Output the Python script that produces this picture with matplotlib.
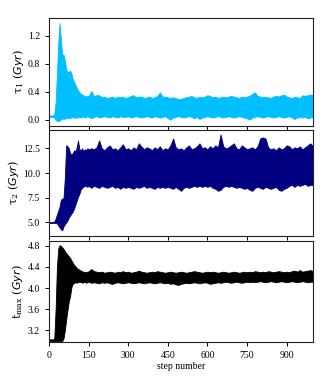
import matplotlib
matplotlib.use("Agg")
import matplotlib.pyplot as plt
import numpy as np

plt.rcParams['font.family'] = ['Liberation Serif', 'DejaVu Serif']
plt.rcParams['mathtext.fontset'] = 'custom'
plt.rcParams['mathtext.rm'] = 'DejaVu Serif'
plt.rcParams['mathtext.it'] = 'DejaVu Sans:italic'
plt.rcParams['mathtext.bf'] = 'DejaVu Serif:bold'

# step grid: every 5 steps up to 150, then every 10
steps = list(range(0, 151, 5)) + list(range(160, 1001, 10))

# ---- tau_1 envelope of walkers (Gyr)
tau1_upper = [0.06, 0.06, 0.06, 0.06, 0.08, 0.25, 0.65, 1.09, 1.38, 1.15, 0.93,
              0.93, 0.85, 0.72, 0.68, 0.69, 0.70, 0.66, 0.58, 0.54, 0.50, 0.45,
              0.42, 0.39, 0.37, 0.36, 0.35, 0.34, 0.33, 0.34, 0.33,
              0.41, 0.34, 0.35, 0.35, 0.32, 0.33, 0.31, 0.32, 0.33, 0.31, 0.33,
              0.32, 0.33, 0.31, 0.32, 0.34, 0.35, 0.32, 0.33, 0.33, 0.31, 0.32,
              0.33, 0.31, 0.32, 0.34, 0.39, 0.33, 0.33, 0.32, 0.31, 0.32, 0.31,
              0.29, 0.30, 0.31, 0.32, 0.33, 0.34, 0.32, 0.31, 0.33, 0.32, 0.33,
              0.35, 0.34, 0.32, 0.33, 0.31, 0.32, 0.33, 0.32, 0.33, 0.34, 0.33,
              0.32, 0.31, 0.33, 0.32, 0.33, 0.34, 0.37, 0.39, 0.34, 0.33, 0.32,
              0.33, 0.32, 0.31, 0.33, 0.34, 0.33, 0.35, 0.36, 0.33, 0.32, 0.31,
              0.33, 0.32, 0.31, 0.35, 0.34, 0.35, 0.36, 0.35]
tau1_lower = [0.04, 0.04, 0.04, 0.04, 0.03, 0.00, -0.02, -0.02, -0.01, 0.00, 0.01,
              0.02, 0.01, 0.03, 0.02, 0.03, 0.02, 0.04, 0.03, 0.04, 0.02, 0.04,
              0.03, 0.05, 0.03, 0.04, 0.05, 0.03, 0.04, 0.05, 0.04,
              0.02, 0.04, 0.05, 0.03, 0.04, 0.05, 0.04, 0.03, 0.05, 0.04, 0.03,
              0.05, 0.04, 0.04, 0.05, 0.03, 0.04, 0.05, 0.04, 0.03, 0.04, 0.05,
              0.04, 0.03, 0.05, 0.04, 0.03, 0.04, 0.05, 0.02, 0.00, 0.03, 0.04,
              0.05, 0.04, 0.03, 0.04, 0.05, 0.04, 0.02, 0.04, 0.01, 0.03, 0.04,
              0.05, 0.04, 0.03, 0.04, 0.05, 0.04, 0.03, 0.04, 0.05, 0.04, 0.03,
              0.04, 0.05, 0.04, 0.03, 0.02, 0.00, 0.03, 0.04, 0.05, 0.04, 0.03,
              0.04, 0.05, 0.04, 0.03, 0.04, 0.05, 0.04, 0.03, 0.04, 0.05, 0.03,
              0.01, 0.03, 0.04, 0.03, 0.04, 0.02, 0.03, 0.04]

# ---- tau_2 envelope (Gyr)
tau2_upper = [5.05, 5.05, 5.05, 5.05, 5.10, 5.40, 5.80, 6.20, 6.60, 7.30, 7.40,
              7.50, 9.50, 12.8, 12.7, 12.5, 12.0, 11.9, 12.0, 12.3, 12.2, 12.6,
              13.3, 12.4, 12.3, 12.5, 12.2, 12.4, 12.3, 12.5, 12.4,
              12.5, 12.4, 12.6, 13.3, 12.5, 12.3, 12.6, 12.8, 12.4, 12.5, 12.3,
              12.6, 12.9, 12.4, 12.5, 12.3, 12.6, 12.4, 13.0, 12.7, 12.4, 12.6,
              12.5, 12.3, 12.6, 12.4, 12.7, 12.3, 12.5, 12.4, 12.8, 13.5, 12.6,
              12.4, 12.5, 12.3, 12.6, 12.8, 12.4, 12.5, 12.7, 13.0, 12.5, 12.6,
              12.4, 12.7, 12.5, 12.8, 12.6, 13.9, 12.7, 12.5, 12.6, 12.8, 13.0,
              12.5, 12.4, 12.8, 12.6, 12.4, 12.5, 12.6, 12.4, 12.7, 13.5, 13.6,
              13.5, 12.6, 12.4, 12.5, 12.3, 12.6, 12.4, 12.5, 12.8, 12.7, 12.4,
              12.6, 12.5, 12.7, 12.4, 12.6, 12.8, 13.0, 12.7]
tau2_lower = [4.95, 4.95, 4.95, 4.95, 4.95, 4.95, 4.90, 4.70, 4.50, 4.30, 4.20,
              4.60, 4.80, 5.00, 5.20, 5.50, 5.70, 5.90, 6.10, 6.40, 6.80, 7.20,
              7.60, 7.90, 8.30, 8.50, 8.60, 8.70, 8.70, 8.60, 8.70,
              8.5, 8.7, 8.6, 8.5, 8.7, 8.6, 8.5, 8.6, 8.7, 8.5, 8.6,
              8.4, 8.6, 8.5, 8.6, 8.5, 8.4, 8.6, 8.5, 8.6, 8.7, 8.5,
              8.6, 8.5, 8.4, 8.6, 8.5, 8.6, 8.5, 8.6, 8.5, 8.4, 8.6,
              8.4, 8.2, 8.5, 8.6, 8.5, 8.6, 8.7, 8.6, 8.7, 8.6, 8.7,
              8.6, 8.7, 8.5, 8.4, 8.2, 8.3, 8.6, 8.7, 8.6, 8.7, 8.6,
              8.5, 8.6, 8.5, 8.4, 8.5, 8.3, 8.2, 8.5, 8.6, 8.5, 8.4,
              8.6, 8.5, 8.4, 8.5, 8.6, 8.3, 8.2, 8.4, 8.5, 8.7, 8.8,
              8.6, 8.8, 8.7, 8.8, 8.9, 8.7, 8.8, 8.8]

# ---- t_max envelope (Gyr)
tmax_upper = [3.03, 3.03, 3.03, 3.03, 3.05, 3.60, 4.40, 4.75, 4.81, 4.80, 4.77,
              4.74, 4.70, 4.66, 4.63, 4.60, 4.57, 4.52, 4.48, 4.44, 4.41, 4.38,
              4.36, 4.35, 4.33, 4.32, 4.31, 4.30, 4.31, 4.30, 4.32,
              4.36, 4.32, 4.31, 4.30, 4.31, 4.29, 4.30, 4.31, 4.30, 4.29, 4.31,
              4.30, 4.32, 4.30, 4.31, 4.29, 4.30, 4.31, 4.33, 4.31, 4.30, 4.29,
              4.30, 4.31, 4.30, 4.32, 4.31, 4.30, 4.29, 4.30, 4.31, 4.30, 4.29,
              4.30, 4.31, 4.30, 4.29, 4.30, 4.31, 4.32, 4.31, 4.30, 4.29, 4.30,
              4.31, 4.30, 4.31, 4.30, 4.29, 4.30, 4.31, 4.30, 4.29, 4.30, 4.31,
              4.30, 4.29, 4.30, 4.31, 4.30, 4.31, 4.30, 4.32, 4.31, 4.30, 4.31,
              4.30, 4.32, 4.31, 4.30, 4.31, 4.32, 4.31, 4.30, 4.31, 4.30, 4.32,
              4.33, 4.31, 4.34, 4.31, 4.32, 4.33, 4.34, 4.32]
tmax_lower = [3.00, 3.00, 3.00, 3.00, 3.00, 3.00, 3.00, 3.00, 3.00, 3.00, 3.00,
              3.05, 3.20, 3.40, 3.58, 3.75, 3.85, 4.02, 4.08, 4.10, 4.11, 4.10,
              4.12, 4.11, 4.12, 4.10, 4.11, 4.12, 4.10, 4.11, 4.12,
              4.10, 4.11, 4.10, 4.09, 4.11, 4.10, 4.11, 4.09, 4.08, 4.10, 4.11,
              4.10, 4.09, 4.10, 4.11, 4.10, 4.09, 4.10, 4.11, 4.10, 4.09, 4.10,
              4.11, 4.10, 4.09, 4.10, 4.11, 4.10, 4.09, 4.10, 4.08, 4.09, 4.07,
              4.06, 4.08, 4.09, 4.10, 4.09, 4.10, 4.11, 4.10, 4.09, 4.10, 4.11,
              4.10, 4.08, 4.09, 4.10, 4.11, 4.10, 4.11, 4.12, 4.11, 4.10, 4.11,
              4.12, 4.11, 4.10, 4.11, 4.12, 4.11, 4.12, 4.11, 4.12, 4.13, 4.12,
              4.11, 4.12, 4.13, 4.12, 4.11, 4.12, 4.13, 4.12, 4.11, 4.12, 4.13,
              4.12, 4.11, 4.12, 4.13, 4.12, 4.11, 4.12, 4.12]

xticks = [0, 150, 300, 450, 600, 750, 900]
ylabels = [r'$\mathrm{\tau}_{\mathrm{1}}\ (Gyr)$', r'$\mathrm{\tau}_{\mathrm{2}}\ (Gyr)$',
           r'$\mathrm{t}_{\mathrm{max}}\ (Gyr)$']
yticks = [[0.0, 0.4, 0.8, 1.2], [5.0, 7.5, 10.0, 12.5], [3.2, 3.6, 4.0, 4.4, 4.8]]
ylims = [(-0.086, 1.449), (3.66, 14.35), (2.99, 4.89)]
colors = ['#00BFFF', '#000080', '#000000']
uppers = [tau1_upper, tau2_upper, tmax_upper]
lowers = [tau1_lower, tau2_lower, tmax_lower]

W, H = 330, 385
fig = plt.figure(figsize=(W / 100, H / 100), dpi=100)
boxes = [(18.3, 125.7), (130.0, 235.7), (241.0, 341.5)]
left, width = 49 / W, 264 / W
axes = []
for i, (top, bot) in enumerate(boxes):
    ax = fig.add_axes([left, 1 - bot / H, width, (bot - top) / H])
    axes.append(ax)
    ax.fill_between(steps, lowers[i], uppers[i], color=colors[i], lw=0.6,
                    edgecolor=colors[i])
    ax.set_xlim(0, 1000)
    ax.set_ylim(*ylims[i])
    ax.set_xticks(xticks)
    ax.set_yticks(yticks[i])
    ax.set_yticklabels([f'{v:.1f}' for v in yticks[i]])
    ax.tick_params(labelsize=7, length=3, width=0.7, direction='out')
    ax.set_ylabel(ylabels[i], fontsize=8, labelpad=1.5)
    for sp in ax.spines.values():
        sp.set_linewidth(0.8)
        sp.set_color('#222222')
    if i < 2:
        ax.tick_params(labelbottom=False)

axes[2].set_xlabel('step number', fontsize=7, labelpad=2)
fig.savefig('out.png', dpi=100)
